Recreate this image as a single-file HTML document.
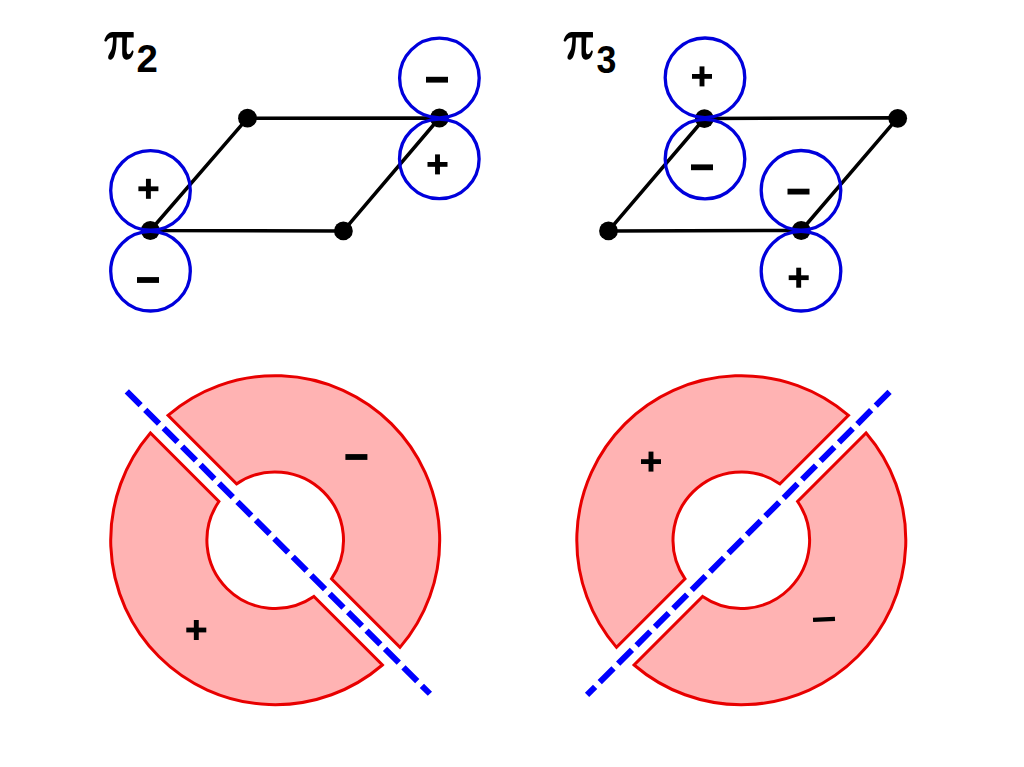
<!DOCTYPE html><html><head><meta charset="utf-8"><style>html,body{margin:0;padding:0;background:#fff;overflow:hidden}svg{display:block}</style></head><body>
<svg width="1024" height="767" viewBox="0 0 1024 767">
<rect width="1024" height="767" fill="#fff"/>
<path d="M104.3 40.6 C105.5 36.5 108 32.3 112.5 32.1 L133.2 32.1 Q133.7 32.1 133.7 32.6 L133.7 37.5 L127 37.5 L126.6 50 C126.6 53.5 127.6 54.4 128.6 54.3 C130 54.1 131.2 52.5 132.1 50.4 C132.8 50.3 133.5 50.8 133.5 51.4 C133 55.5 130.5 59.8 126.5 59.7 C123.5 59.6 122.2 56.5 122.2 53 L122.2 37.5 L116.6 37.5 C116.5 44 116.2 49 115.3 52 C114.6 55 113.5 59.5 110.5 59.7 C108.2 59.8 107.8 57.5 108.5 55.5 C109.5 53 111.3 50.8 111.9 48.5 C112.6 45.5 113 41 113.05 37.5 L112.6 37.5 C110 37.6 108 38.8 106.6 41.2 C106 41.8 104.6 41.8 104.3 40.6 Z" fill="#000"/>
<g transform="translate(459.3 0)"><path d="M104.3 40.6 C105.5 36.5 108 32.3 112.5 32.1 L133.2 32.1 Q133.7 32.1 133.7 32.6 L133.7 37.5 L127 37.5 L126.6 50 C126.6 53.5 127.6 54.4 128.6 54.3 C130 54.1 131.2 52.5 132.1 50.4 C132.8 50.3 133.5 50.8 133.5 51.4 C133 55.5 130.5 59.8 126.5 59.7 C123.5 59.6 122.2 56.5 122.2 53 L122.2 37.5 L116.6 37.5 C116.5 44 116.2 49 115.3 52 C114.6 55 113.5 59.5 110.5 59.7 C108.2 59.8 107.8 57.5 108.5 55.5 C109.5 53 111.3 50.8 111.9 48.5 C112.6 45.5 113 41 113.05 37.5 L112.6 37.5 C110 37.6 108 38.8 106.6 41.2 C106 41.8 104.6 41.8 104.3 40.6 Z" fill="#000"/></g>
<text x="136.5" y="71.8" font-family="Liberation Sans" font-weight="bold" font-size="38.4" fill="#000">2</text>
<text transform="translate(596.4 73.1) scale(0.905 1)" x="0" y="0" font-family="Liberation Sans" font-weight="bold" font-size="39.5" fill="#000">3</text>
<path d="M150.3 230.5 L247.5 118.2 L439.4 118 L343.4 230.9 Z" fill="none" stroke="#000" stroke-width="3.5" stroke-linejoin="round"/>
<path d="M608.5 230.9 L704.4 118.5 L897.7 117.8 L801.2 230.5 Z" fill="none" stroke="#000" stroke-width="3.5" stroke-linejoin="round"/>
<circle cx="150.3" cy="230.5" r="9.4" fill="#000"/>
<circle cx="247.5" cy="118.2" r="9.4" fill="#000"/>
<circle cx="439.4" cy="118" r="9.4" fill="#000"/>
<circle cx="343.4" cy="230.9" r="9.4" fill="#000"/>
<circle cx="608.5" cy="230.9" r="9.4" fill="#000"/>
<circle cx="704.4" cy="118.6" r="9.4" fill="#000"/>
<circle cx="897.7" cy="118.3" r="9.4" fill="#000"/>
<circle cx="801.2" cy="230.5" r="9.4" fill="#000"/>
<circle cx="150.5" cy="190.4" r="39.8" fill="none" stroke="#0000dc" stroke-width="3.3"/>
<circle cx="150.5" cy="271.2" r="39.8" fill="none" stroke="#0000dc" stroke-width="3.3"/>
<circle cx="439.4" cy="78" r="39.8" fill="none" stroke="#0000dc" stroke-width="3.3"/>
<circle cx="439.3" cy="158.9" r="39.8" fill="none" stroke="#0000dc" stroke-width="3.3"/>
<circle cx="705" cy="77.8" r="39.8" fill="none" stroke="#0000dc" stroke-width="3.3"/>
<circle cx="705" cy="159.1" r="39.8" fill="none" stroke="#0000dc" stroke-width="3.3"/>
<circle cx="801" cy="190.3" r="39.8" fill="none" stroke="#0000dc" stroke-width="3.3"/>
<circle cx="801" cy="271.2" r="39.8" fill="none" stroke="#0000dc" stroke-width="3.3"/>
<rect x="138.4" y="186.4" width="20" height="4.8" fill="#000"/><rect x="145.95" y="178.8" width="4.9" height="20" fill="#000"/>
<rect x="137" y="277.1" width="22" height="5.8" fill="#000"/>
<rect x="426" y="76.8" width="22" height="5.8" fill="#000"/>
<rect x="427.5" y="162" width="20" height="4.8" fill="#000"/><rect x="435.05" y="154.4" width="4.9" height="20" fill="#000"/>
<rect x="692" y="74" width="20" height="4.8" fill="#000"/><rect x="699.55" y="66.4" width="4.9" height="20" fill="#000"/>
<rect x="691" y="164.4" width="22" height="5.8" fill="#000"/>
<rect x="787.5" y="188.7" width="22" height="5.8" fill="#000"/>
<rect x="788.7" y="275.3" width="20" height="4.8" fill="#000"/><rect x="796.25" y="267.7" width="4.9" height="20" fill="#000"/>
<path d="M168.02 415.41 A164.5 164.5 0 0 1 399.99 647.38 L331.49 578.88 A68.3 68.3 0 0 0 236.52 483.91 Z" fill="#ffb3b3" stroke="#e80000" stroke-width="3" stroke-linejoin="miter"/>
<path d="M382.38 664.99 A164.5 164.5 0 0 1 150.41 433.02 L218.91 501.52 A68.3 68.3 0 0 0 313.88 596.49 Z" fill="#ffb3b3" stroke="#e80000" stroke-width="3" stroke-linejoin="miter"/>
<path d="M616.51 647.38 A164.5 164.5 0 0 1 848.48 415.41 L779.98 483.91 A68.3 68.3 0 0 0 685.01 578.88 Z" fill="#ffb3b3" stroke="#e80000" stroke-width="3" stroke-linejoin="miter"/>
<path d="M866.09 433.02 A164.5 164.5 0 0 1 634.12 664.99 L702.62 596.49 A68.3 68.3 0 0 0 797.59 501.52 Z" fill="#ffb3b3" stroke="#e80000" stroke-width="3" stroke-linejoin="miter"/>
<rect x="345.4" y="454.1" width="22" height="5.8" fill="#000"/>
<rect x="186.3" y="627.6" width="20" height="4.8" fill="#000"/><rect x="193.85" y="620" width="4.9" height="20" fill="#000"/>
<rect x="641" y="459.2" width="20" height="4.8" fill="#000"/><rect x="648.55" y="451.6" width="4.9" height="20" fill="#000"/>
<rect x="813" y="617.2" width="22" height="4.2" fill="#000" transform="rotate(-2.6 824 619.3)"/>
<path d="M126.8 391.4 L429.9 693.75" stroke="#0000ff" stroke-width="6" stroke-dasharray="19.5 6.55" fill="none"/>
<path d="M889.55 391.8 L587.05 694.9" stroke="#0000ff" stroke-width="6" stroke-dasharray="19.5 6.55" fill="none"/>
</svg>
</body></html>
